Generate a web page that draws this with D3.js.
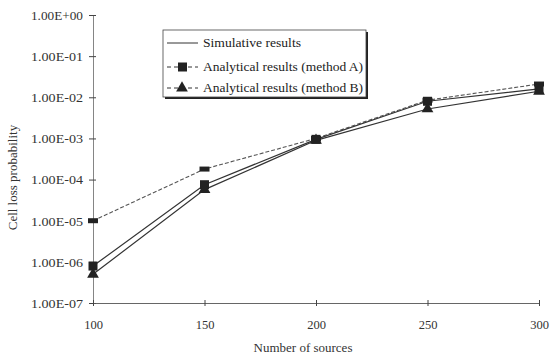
<!DOCTYPE html>
<html>
<head>
<meta charset="utf-8">
<script src="https://cdn.jsdelivr.net/npm/d3@7"></script>
<style>
html,body{margin:0;padding:0;background:#fff;}
svg{display:block;font-family:"Liberation Serif","DejaVu Serif",serif;}
</style>
</head>
<body>
<svg id="chart" width="551" height="362"></svg>
<script>
const sources = [100, 150, 200, 250, 300];
const simulative = [1.0e-5, 1.8e-4, 1.0e-3, 8.5e-3, 2.1e-2];
const methodA = [7.9e-7, 7.5e-5, 9.5e-4, 8.0e-3, 1.6e-2];
const methodB = [5.0e-7, 5.7e-5, 9.0e-4, 5.2e-3, 1.4e-2];
const yTickValues = [1, 1e-1, 1e-2, 1e-3, 1e-4, 1e-5, 1e-6, 1e-7];
const yTickLabels = ["1.00E+00","1.00E-01","1.00E-02","1.00E-03","1.00E-04","1.00E-05","1.00E-06","1.00E-07"];
const xTickLabels = ["100","150","200","250","300"];
const legendLabels = ["Simulative results","Analytical results (method A)","Analytical results (method B)"];

const svg = d3.select("#chart");
const x = d3.scaleLinear().domain([100, 300]).range([93, 539]);
const y = d3.scaleLog().domain([1e-7, 1]).range([303, 15]);

// Y axis
const yAxis = d3.axisLeft(y).tickValues(yTickValues)
  .tickFormat((d, i) => yTickLabels[i]).tickSizeInner(4).tickSizeOuter(0).tickPadding(6);
const gy = svg.append("g").attr("transform", `translate(${x(100)},0)`).call(yAxis);
gy.select(".domain").attr("stroke", "#666").attr("stroke-width", 0.8);
gy.selectAll(".tick line").attr("stroke", "#444").attr("x2", 3).attr("x1", -4);
gy.selectAll(".tick text").attr("font-size", 12.5).attr("fill", "#333")
  .attr("font-family", "Liberation Serif").attr("dy", "0.35em")
  .attr("textLength", 52).attr("lengthAdjust", "spacingAndGlyphs");

// X axis
const xAxis = d3.axisBottom(x).tickValues(sources)
  .tickFormat((d, i) => xTickLabels[i]).tickSizeInner(3).tickSizeOuter(0).tickPadding(14);
const gx = svg.append("g").attr("transform", `translate(0,${y(1e-7)})`).call(xAxis);
gx.select(".domain").attr("stroke", "#555").attr("stroke-width", 0.9);
gx.selectAll(".tick line").attr("stroke", "#444").attr("y1", -3);
gx.selectAll(".tick text").attr("font-size", 12.5).attr("fill", "#333")
  .attr("font-family", "Liberation Serif");

// axis titles
svg.append("text").attr("transform", `translate(17,${(y(1e-3)+y(1e-5))/2 - 2}) rotate(-90)`)
  .attr("text-anchor", "middle").attr("font-size", 13).attr("fill", "#333")
  .text("Cell loss probability");
svg.append("text").attr("x", x(200) - 13).attr("y", 352)
  .attr("text-anchor", "middle").attr("font-size", 13).attr("fill", "#333")
  .text("Number of sources");

// Lines
const line = d3.line().x((d, i) => x(sources[i])).y(d => y(d));
const plotG = svg.append("g");
plotG.append("path").datum(simulative).attr("d", line)
  .attr("fill", "none").attr("stroke", "#555").attr("stroke-width", 1.1)
  .attr("stroke-dasharray", "4,2");
plotG.append("path").datum(methodA).attr("d", line)
  .attr("fill", "none").attr("stroke", "#333").attr("stroke-width", 1.2);
plotG.append("path").datum(methodB).attr("d", line)
  .attr("fill", "none").attr("stroke", "#333").attr("stroke-width", 1.2);

// markers
plotG.selectAll(".mS").data(simulative).enter().append("rect")
  .attr("x", (d, i) => x(sources[i]) - 5).attr("y", d => y(d) - 2.5)
  .attr("width", 10).attr("height", 5).attr("fill", "#222");
plotG.selectAll(".mA").data(methodA).enter().append("rect")
  .attr("x", (d, i) => x(sources[i]) - 4.5).attr("y", d => y(d) - 4.5)
  .attr("width", 9).attr("height", 9).attr("fill", "#222");
const tri = d3.symbol().type(d3.symbolTriangle).size(60);
plotG.selectAll(".mB").data(methodB).enter().append("path")
  .attr("d", tri).attr("transform", (d, i) => `translate(${x(sources[i])},${y(d)})`)
  .attr("fill", "#222");

// Legend
const lg = svg.append("g");
const lx = 163, ly = 30, lw = 203, lh = 67;
lg.append("rect").attr("x", lx + 2).attr("y", ly + 2).attr("width", lw).attr("height", lh).attr("fill", "#222");
lg.append("rect").attr("x", lx).attr("y", ly).attr("width", lw).attr("height", lh)
  .attr("fill", "#fff").attr("stroke", "#444").attr("stroke-width", 0.8);
const rowsY = [43, 67, 88];
const legendWidths = [98, 160, 160];
legendLabels.forEach((t, i) => {
  const ry = ly + (rowsY[i] - 30);
  const seg = lg.append("line").attr("x1", lx + 4).attr("x2", lx + 35).attr("y1", ry).attr("y2", ry)
    .attr("stroke", "#333").attr("stroke-width", 1);
  if (i > 0) seg.attr("stroke-dasharray", "4,3");
  if (i === 1) lg.append("rect").attr("x", lx + 15).attr("y", ry - 4.5).attr("width", 9).attr("height", 9).attr("fill", "#222");
  if (i === 2) lg.append("path").attr("d", tri).attr("transform", `translate(${lx + 19},${ry})`).attr("fill", "#222");
  lg.append("text").attr("x", lx + 40).attr("y", ry).attr("dy", "0.35em")
    .attr("font-size", 12.5).attr("fill", "#222")
    .attr("textLength", legendWidths[i]).attr("lengthAdjust", "spacingAndGlyphs").text(t);
});
</script>
</body>
</html>
